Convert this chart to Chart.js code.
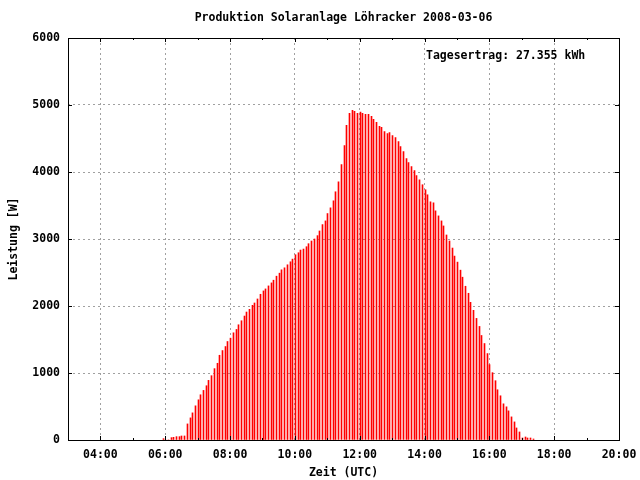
<!DOCTYPE html>
<html lang="de">
<head>
    <meta charset="UTF-8">
    <title>Produktion Solaranlage Löhracker 2008-03-06</title>
    <style>
        body { margin: 0; background: #fff; }
        #wrap { width: 640px; height: 480px; }
    </style>
</head>
<body>
    <div id="wrap">
        <canvas id="solarChart" width="640" height="480"></canvas>
    </div>

    <script src="https://cdn.jsdelivr.net/npm/chart.js"></script>
    <script>
        const chartTitle = 'Produktion Solaranlage Löhracker 2008-03-06';
        const yieldLabel = 'Tagesertrag: 27.355 kWh';

        // sample times (UTC), one every 5 minutes
        const times = [
            '05:56', '06:01', '06:06', '06:11', '06:16', '06:21', '06:26', '06:31', '06:36', '06:41',
            '06:46', '06:51', '06:56', '07:01', '07:06', '07:11', '07:16', '07:21', '07:26', '07:31',
            '07:36', '07:41', '07:46', '07:51', '07:56', '08:01', '08:06', '08:11', '08:16', '08:21',
            '08:26', '08:31', '08:36', '08:41', '08:46', '08:51', '08:56', '09:01', '09:06', '09:11',
            '09:16', '09:21', '09:26', '09:31', '09:36', '09:41', '09:46', '09:51', '09:56', '10:01',
            '10:06', '10:11', '10:16', '10:21', '10:26', '10:31', '10:36', '10:41', '10:46', '10:51',
            '10:56', '11:01', '11:06', '11:11', '11:16', '11:21', '11:26', '11:31', '11:36', '11:41',
            '11:46', '11:51', '11:56', '12:01', '12:06', '12:11', '12:16', '12:21', '12:26', '12:31',
            '12:36', '12:41', '12:46', '12:51', '12:56', '13:01', '13:06', '13:11', '13:16', '13:21',
            '13:26', '13:31', '13:36', '13:41', '13:46', '13:51', '13:56', '14:01', '14:06', '14:11',
            '14:16', '14:21', '14:26', '14:31', '14:36', '14:41', '14:46', '14:51', '14:56', '15:01',
            '15:06', '15:11', '15:16', '15:21', '15:26', '15:31', '15:36', '15:41', '15:46', '15:51',
            '15:56', '16:01', '16:06', '16:11', '16:16', '16:21', '16:26', '16:31', '16:36', '16:41',
            '16:46', '16:51', '16:56', '17:01', '17:06', '17:11', '17:16', '17:21'
        ];

        // power in W
        const power = [
            20, 0, 0, 35, 40, 50, 50, 60, 60, 240,
            330, 405, 510, 600, 675, 740, 810, 890, 960, 1065,
            1145, 1265, 1335, 1395, 1470, 1520, 1600, 1650, 1720, 1780,
            1850, 1910, 1950, 2010, 2045, 2105, 2175, 2225, 2255, 2300,
            2345, 2385, 2445, 2490, 2540, 2570, 2615, 2660, 2700, 2765,
            2795, 2835, 2850, 2885, 2930, 2970, 3000, 3050, 3120, 3215,
            3270, 3380, 3465, 3570, 3705, 3855, 4110, 4395, 4695, 4875,
            4920, 4905, 4875, 4895, 4875, 4860, 4860, 4830, 4785, 4740,
            4680, 4665, 4605, 4575, 4590, 4545, 4515, 4455, 4380, 4305,
            4200, 4140, 4080, 4020, 3945, 3885, 3810, 3735, 3660, 3555,
            3540, 3420, 3345, 3270, 3195, 3060, 2970, 2865, 2745, 2655,
            2535, 2430, 2295, 2190, 2055, 1935, 1815, 1695, 1560, 1440,
            1290, 1125, 1005, 885, 750, 660, 540, 495, 435, 345,
            270, 180, 120, 30, 45, 30, 30, 15
        ];

        // axis ranges (hours / W)
        const xMin = 3, xMax = 20;
        const yMin = 0, yMax = 6000, yStep = 1000;

        const FONT = '"DejaVu Sans Mono", "Liberation Mono", monospace';
        const font = { family: FONT, size: 11.5, weight: 'bold' };

        function toHours(t) {
            const [h, m] = t.split(':').map(Number);
            return h + m / 60;
        }

        function hourLabel(v) {
            return (v < 10 ? '0' : '') + v + ':00';
        }

        // snap the thin impulse bars onto whole pixels so they stay crisp
        const snapBars = {
            id: 'snapBars',
            beforeDatasetsDraw(chart) {
                chart.getDatasetMeta(0).data.forEach(el => {
                    el.x = Math.floor(el.x) + 0.5;
                });
            }
        };

        // frame, inward tick marks and the free texts (gnuplot style)
        const gnuplotFrame = {
            id: 'gnuplotFrame',
            afterDraw(chart) {
                const { ctx, chartArea: a, scales } = chart;
                const x = scales.x, y = scales.y;
                ctx.save();
                ctx.strokeStyle = '#000';
                ctx.lineWidth = 1;

                ctx.beginPath();
                x.ticks.forEach(t => {
                    if (t.value <= xMin || t.value >= xMax) return;
                    const px = Math.round(x.getPixelForValue(t.value)) + 0.5;
                    const len = t.value % 2 === 0 ? 4 : 2;
                    ctx.moveTo(px, a.bottom);
                    ctx.lineTo(px, a.bottom - len);
                    ctx.moveTo(px, a.top);
                    ctx.lineTo(px, a.top + len);
                });
                y.ticks.forEach(t => {
                    if (t.value <= yMin || t.value >= yMax) return;
                    const py = Math.round(y.getPixelForValue(t.value)) + 0.5;
                    ctx.moveTo(a.left, py);
                    ctx.lineTo(a.left + 4, py);
                    ctx.moveTo(a.right, py);
                    ctx.lineTo(a.right - 4, py);
                });
                ctx.stroke();

                ctx.strokeRect(a.left + 0.5, a.top + 0.5, a.right - a.left, a.bottom - a.top);

                ctx.fillStyle = '#000';
                ctx.font = 'bold 11.5px ' + FONT;
                ctx.textBaseline = 'middle';
                ctx.textAlign = 'center';
                ctx.fillText(chartTitle, (a.left + a.right) / 2, 18);
                ctx.textAlign = 'left';
                ctx.fillText(yieldLabel, 426, 56);
                ctx.restore();
            }
        };

        const ctx = document.getElementById('solarChart').getContext('2d');
        new Chart(ctx, {
            type: 'bar',
            data: {
                datasets: [{
                    data: times.map((t, i) => ({ x: toHours(t), y: power[i] })),
                    backgroundColor: '#ff0000',
                    borderWidth: 0,
                    barThickness: 1
                }]
            },
            options: {
                responsive: false,
                animation: false,
                layout: { padding: { top: 38, right: 21, left: 0, bottom: 0 } },
                plugins: {
                    legend: { display: false },
                    tooltip: { enabled: false },
                    title: { display: false }
                },
                scales: {
                    x: {
                        type: 'linear',
                        min: xMin,
                        max: xMax,
                        offset: false,
                        afterFit: s => {
                            s.height = 40;
                            s.paddingLeft = 0;
                            s.paddingRight = 0;
                        },
                        grid: {
                            offset: false,
                            drawTicks: false,
                            lineWidth: 1,
                            color: c => (c.tick && c.tick.value % 2 === 0 && c.tick.value > xMin && c.tick.value < xMax) ? '#a0a0a0' : 'rgba(0,0,0,0)'
                        },
                        border: { display: false, dash: [2, 3] },
                        ticks: {
                            stepSize: 1,
                            autoSkip: false,
                            maxRotation: 0,
                            padding: 8,
                            color: '#000',
                            font: font,
                            callback: v => (v % 2 === 0 ? hourLabel(v) : '')
                        },
                        title: {
                            display: true,
                            text: 'Zeit (UTC)',
                            color: '#000',
                            font: font,
                            padding: { top: 0, bottom: 0 }
                        }
                    },
                    y: {
                        min: yMin,
                        max: yMax,
                        afterFit: s => { s.width = 68; },
                        grid: {
                            drawTicks: false,
                            lineWidth: 1,
                            color: c => (c.tick && c.tick.value > yMin && c.tick.value < yMax) ? '#a0a0a0' : 'rgba(0,0,0,0)'
                        },
                        border: { display: false, dash: [2, 3] },
                        ticks: {
                            stepSize: yStep,
                            padding: 8,
                            color: '#000',
                            font: font,
                            callback: v => String(v)
                        },
                        title: {
                            display: true,
                            text: 'Leistung [W]',
                            color: '#000',
                            font: font,
                            padding: { top: 7, bottom: 0 }
                        }
                    }
                }
            },
            plugins: [snapBars, gnuplotFrame]
        });
    </script>
</body>
</html>
